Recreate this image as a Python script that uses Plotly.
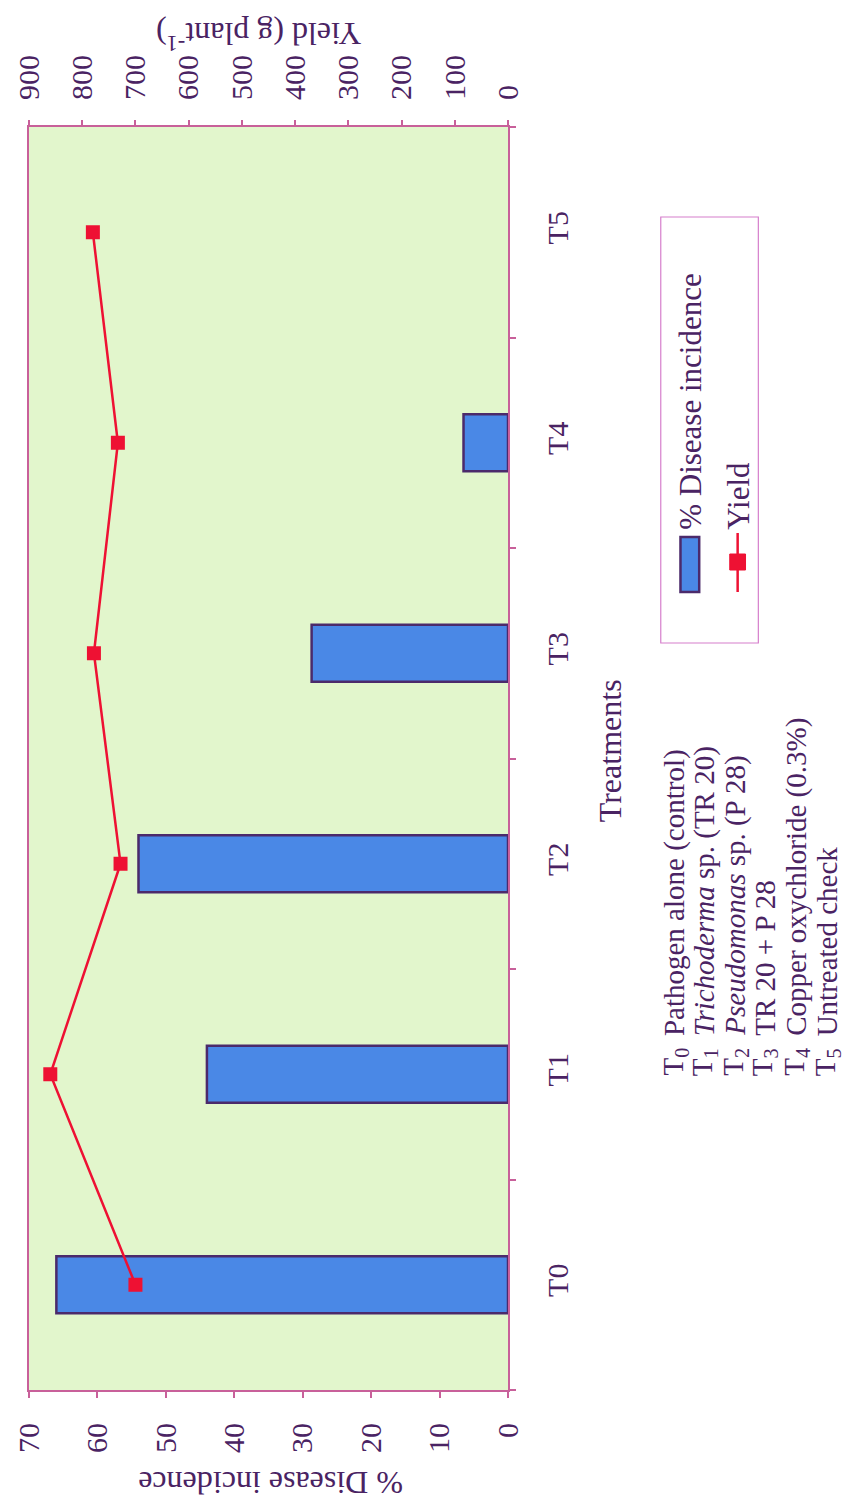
import plotly.graph_objects as go

# ---- data ----
treatments = ["T0", "T1", "T2", "T3", "T4", "T5"]
disease_incidence = [66, 44, 54, 28.7, 6.5, 0]      # % disease incidence
yield_g = [700, 860, 728, 778, 733, 780]             # yield, g plant-1
disease_ticks = [0, 10, 20, 30, 40, 50, 60, 70]
yield_ticks = [0, 100, 200, 300, 400, 500, 600, 700, 800, 900]
legend_labels = ["% Disease incidence", "Yield"]
treatment_codes = ["T<sub>0</sub>", "T<sub>1</sub>", "T<sub>2</sub>",
                   "T<sub>3</sub>", "T<sub>4</sub>", "T<sub>5</sub>"]
treatment_names = ["Pathogen alone (control)",
                   "<i>Trichoderma</i> sp. (TR 20)",
                   "<i>Pseudomonas</i> sp. (P 28)",
                   "TR 20 + P 28",
                   "Copper oxychloride (0.3%)",
                   "Untreated check"]

# ---- style ----
FONT = "Liberation Serif, Times New Roman, serif"
TXT = "#4a2363"
PINK = "#c8609a"
BLUE = "#4a88e6"
BAR_EDGE = "#4b2a6b"
RED = "#ee1133"
BG = "#e2f6cc"

W, H = 850, 1501
L, R, T, B = 22, 508, 127, 1390          # plot area in pixels
PW, PH = R - L, B - T


def px(xp):
    return (xp - L) / PW


def py(yp):
    return (B - yp) / PH


# no outline on empty bars
edge_widths = [2.5 if v > 0 else 0 for v in disease_incidence]

fig = go.Figure()
fig.add_trace(go.Bar(
    x=disease_incidence, y=treatments, orientation="h", width=0.27,
    marker=dict(color=BLUE, line=dict(color=BAR_EDGE, width=edge_widths)),
    xaxis="x", yaxis="y", name=legend_labels[0]))
fig.add_trace(go.Scatter(
    x=yield_g, y=treatments, mode="lines+markers",
    line=dict(color=RED, width=2.5),
    marker=dict(symbol="square", size=14, color=RED),
    xaxis="x2", yaxis="y", name=legend_labels[1]))

tickfont = dict(family=FONT, size=30, color=TXT)

fig.update_layout(
    width=W, height=H,
    margin=dict(l=L, r=W - R, t=T, b=H - B, pad=0),
    paper_bgcolor="white", plot_bgcolor=BG,
    showlegend=False,
    xaxis=dict(range=[70, 0], tickvals=disease_ticks, tickangle=-90,
               ticks="outside", ticklen=6, tickcolor=PINK, tickwidth=1.5,
               showline=True, linecolor=PINK, linewidth=2, mirror=True,
               showgrid=False, zeroline=False, tickfont=tickfont,
               ticklabelstandoff=13),
    xaxis2=dict(range=[900, 0], tickvals=yield_ticks, tickangle=-90,
                overlaying="x", side="top", anchor="y",
                ticks="outside", ticklen=6, tickcolor=PINK, tickwidth=1.5,
                showline=False, showgrid=False, zeroline=False,
                tickfont=tickfont, ticklabelstandoff=14),
    yaxis=dict(type="category", categoryorder="array",
               categoryarray=treatments, range=[-0.5, 5.5],
               side="right", tickangle=-90, tickson="boundaries",
               ticks="outside", ticklen=6, tickcolor=PINK, tickwidth=1.5,
               showline=True, linecolor=PINK, linewidth=2, mirror=True,
               showgrid=False, zeroline=False, tickfont=tickfont,
               ticklabelstandoff=22),
)

ann = []
title_font = dict(family=FONT, size=32, color=TXT)
ann.append(dict(text="Yield (g plant<sup>-1</sup>)", x=px(255), y=py(14),
                textangle=180, font=title_font))
ann.append(dict(text="% Disease incidence", x=px(267), y=py(1503),
                textangle=180, font=title_font))
ann.append(dict(text="Treatments", x=px(632), y=py(751),
                textangle=-90, font=title_font))

# legend block
legend_font = dict(family=FONT, size=31, color=TXT)
ann.append(dict(text=legend_labels[0], x=px(693), y=py(532), textangle=-90,
                xanchor="center", yanchor="bottom", font=legend_font))
ann.append(dict(text=legend_labels[1], x=px(741), y=py(532), textangle=-90,
                xanchor="center", yanchor="bottom", font=legend_font))

shapes = [
    dict(type="rect", xref="paper", yref="paper",
         x0=px(663), x1=px(762), y0=py(643), y1=py(217),
         line=dict(color="#d67fcc", width=1.2), fillcolor="rgba(0,0,0,0)"),
    dict(type="rect", xref="paper", yref="paper",
         x0=px(683), x1=px(702), y0=py(592), y1=py(537),
         line=dict(color=BAR_EDGE, width=2.5), fillcolor=BLUE),
    dict(type="line", xref="paper", yref="paper",
         x0=px(741), x1=px(741), y0=py(592), y1=py(533),
         line=dict(color=RED, width=2.5)),
    dict(type="rect", xref="paper", yref="paper",
         x0=px(733), x1=px(749), y0=py(570), y1=py(554),
         line=dict(color=RED, width=1), fillcolor=RED),
]

# treatment key
code_x = [677, 707, 738, 768, 800, 832]
key_font = dict(family=FONT, size=29, color=TXT)
for cx, code, name in zip(code_x, treatment_codes, treatment_names):
    ann.append(dict(text=code, x=px(cx), y=py(1062), textangle=-90,
                    xanchor="center", yanchor="middle", font=key_font))
    ann.append(dict(text=name, x=px(cx), y=py(1038), textangle=-90,
                    xanchor="center", yanchor="bottom", font=key_font))

for a in ann:
    a.setdefault("xref", "paper")
    a.setdefault("yref", "paper")
    a["showarrow"] = False

fig.update_layout(annotations=ann, shapes=shapes)
fig.write_html("out.html")
